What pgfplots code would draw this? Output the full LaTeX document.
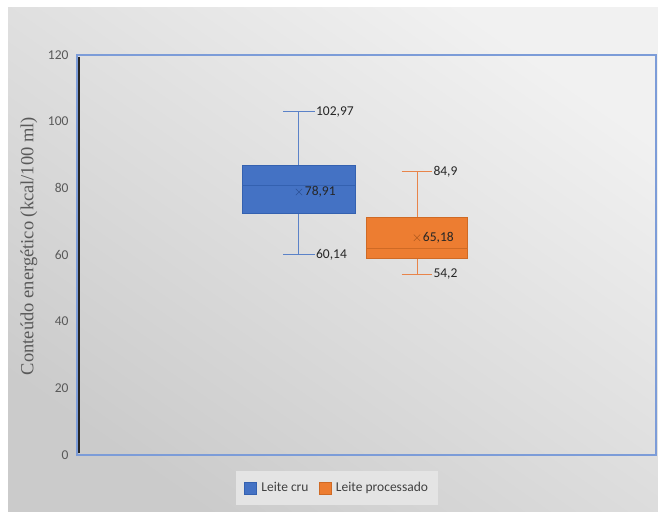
\documentclass[border=0pt]{standalone}
\usepackage{pgfplots}
\pgfplotsset{compat=1.18}
\usepackage{fontspec}
\setmainfont{Carlito}
\newfontfamily\seriffont{Liberation Serif}
\definecolor{bluef}{HTML}{4472C4}
\definecolor{blueb}{HTML}{3461B0}
\definecolor{bluew}{HTML}{5B82C8}
\definecolor{orangef}{HTML}{ED7D31}
\definecolor{orangeb}{HTML}{CF6A25}
\definecolor{orangew}{HTML}{E8844A}
\definecolor{axisblue}{HTML}{7C9CD8}
\definecolor{labgray}{HTML}{595959}
\definecolor{legfill}{HTML}{E4E4E4}
\definecolor{bgtop}{HTML}{F1F1F1}
\definecolor{bgbot}{HTML}{CBCBCB}
\begin{document}
\begin{tikzpicture}
\useasboundingbox (0pt,0pt) rectangle (658pt,511pt);
\fill[white] (0pt,0pt) rectangle (658pt,511pt);
\shade[top color=bgtop, bottom color=bgbot, shading angle=-35] (8pt,0pt) rectangle (658pt,503pt);
\begin{axis}[
  at={(77pt,56pt)}, anchor=south west,
  scale only axis, width=579pt, height=400pt,
  xmin=-0.881, xmax=4.025, ymin=0, ymax=120,
  ytick={0,20,...,120}, xtick=\empty,
  axis line style={draw=axisblue, line width=1.2pt},
  major tick length=0pt,
  /pgf/number format/assume math mode=true,
  yticklabel style={font=\fontsize{13.5}{13.5}\selectfont, text=labgray, xshift=-5pt},
  ylabel={Conteúdo energético (kcal/100 ml)},
  every axis y label/.style={at={(axis description cs:-0.083,0.5225)}, rotate=90, anchor=center},
  ylabel style={font=\seriffont\fontsize{18.5}{18.5}\selectfont, text=labgray},
  legend style={at={(axis description cs:0.449,0)}, yshift=-33pt, anchor=center,
    fill=legfill, draw=none, font=\fontsize{13.5}{13.5}\selectfont, text=black!75,
    inner xsep=8pt, inner ysep=10pt},
  legend columns=2,
  legend cell align=left,
  /tikz/every odd column/.append style={column sep=3pt},
  /tikz/every even column/.append style={column sep=8pt},
]
% Leite cru (blue)
\addplot[forget plot, draw=bluew, line width=1pt] coordinates {(1,86.8) (1,102.97)};
\addplot[forget plot, draw=bluew, line width=1pt] coordinates {(1,72.5) (1,60.14)};
\addplot[forget plot, draw=bluew, line width=1pt] coordinates {(0.865,102.97) (1.135,102.97)};
\addplot[forget plot, draw=bluew, line width=1pt] coordinates {(0.865,60.14) (1.135,60.14)};
\addplot[forget plot, fill=bluef, draw=blueb, line width=0.9pt] coordinates {(0.5225,72.5) (1.4775,72.5) (1.4775,86.8) (0.5225,86.8)} -- cycle;
\addplot[forget plot, draw=blueb, line width=0.9pt] coordinates {(0.5225,80.9) (1.4775,80.9)};
% Leite processado (orange)
\addplot[forget plot, draw=orangew, line width=1pt] coordinates {(2,71.2) (2,84.9)};
\addplot[forget plot, draw=orangew, line width=1pt] coordinates {(2,59.0) (2,54.2)};
\addplot[forget plot, draw=orangew, line width=1pt] coordinates {(1.87,84.9) (2.13,84.9)};
\addplot[forget plot, draw=orangew, line width=1pt] coordinates {(1.87,54.2) (2.13,54.2)};
\addplot[forget plot, fill=orangef, draw=orangeb, line width=0.9pt] coordinates {(1.5725,59.0) (2.4275,59.0) (2.4275,71.2) (1.5725,71.2)} -- cycle;
\addplot[forget plot, draw=orangeb, line width=0.9pt] coordinates {(1.5725,62.0) (2.4275,62.0)};
% means
\addplot[forget plot, only marks, mark=x, mark size=4.5pt, draw=blueb!85!black, line width=0.6pt] coordinates {(1,78.91)};
\addplot[forget plot, only marks, mark=x, mark size=4.5pt, draw=orangeb!85!black, line width=0.6pt] coordinates {(2,65.18)};
\draw[black!85, line width=2pt] ([xshift=2pt]rel axis cs:0,0.004) -- ([xshift=2pt]rel axis cs:0,0.995);
\begin{scope}[every node/.style={anchor=west, font=\fontsize{13.5}{13.5}\selectfont, text=black!85, inner sep=1pt}]
\node at (axis cs:1.135,102.97) {102,97};
\node at (axis cs:1.135,60.14) {60,14};
\node at (axis cs:1.04,78.91) {78,91};
\node at (axis cs:2.13,84.9) {84,9};
\node at (axis cs:2.13,54.2) {54,2};
\node at (axis cs:2.04,65.18) {65,18};
\end{scope}
\addlegendimage{legend image code/.code={\draw[fill=bluef, draw=blueb] (0pt,-6pt) rectangle (12pt,6pt);}}
\addlegendentry{Leite cru}
\addlegendimage{legend image code/.code={\draw[fill=orangef, draw=orangeb] (0pt,-6pt) rectangle (12pt,6pt);}}
\addlegendentry{Leite processado}
\end{axis}
\end{tikzpicture}
\end{document}
